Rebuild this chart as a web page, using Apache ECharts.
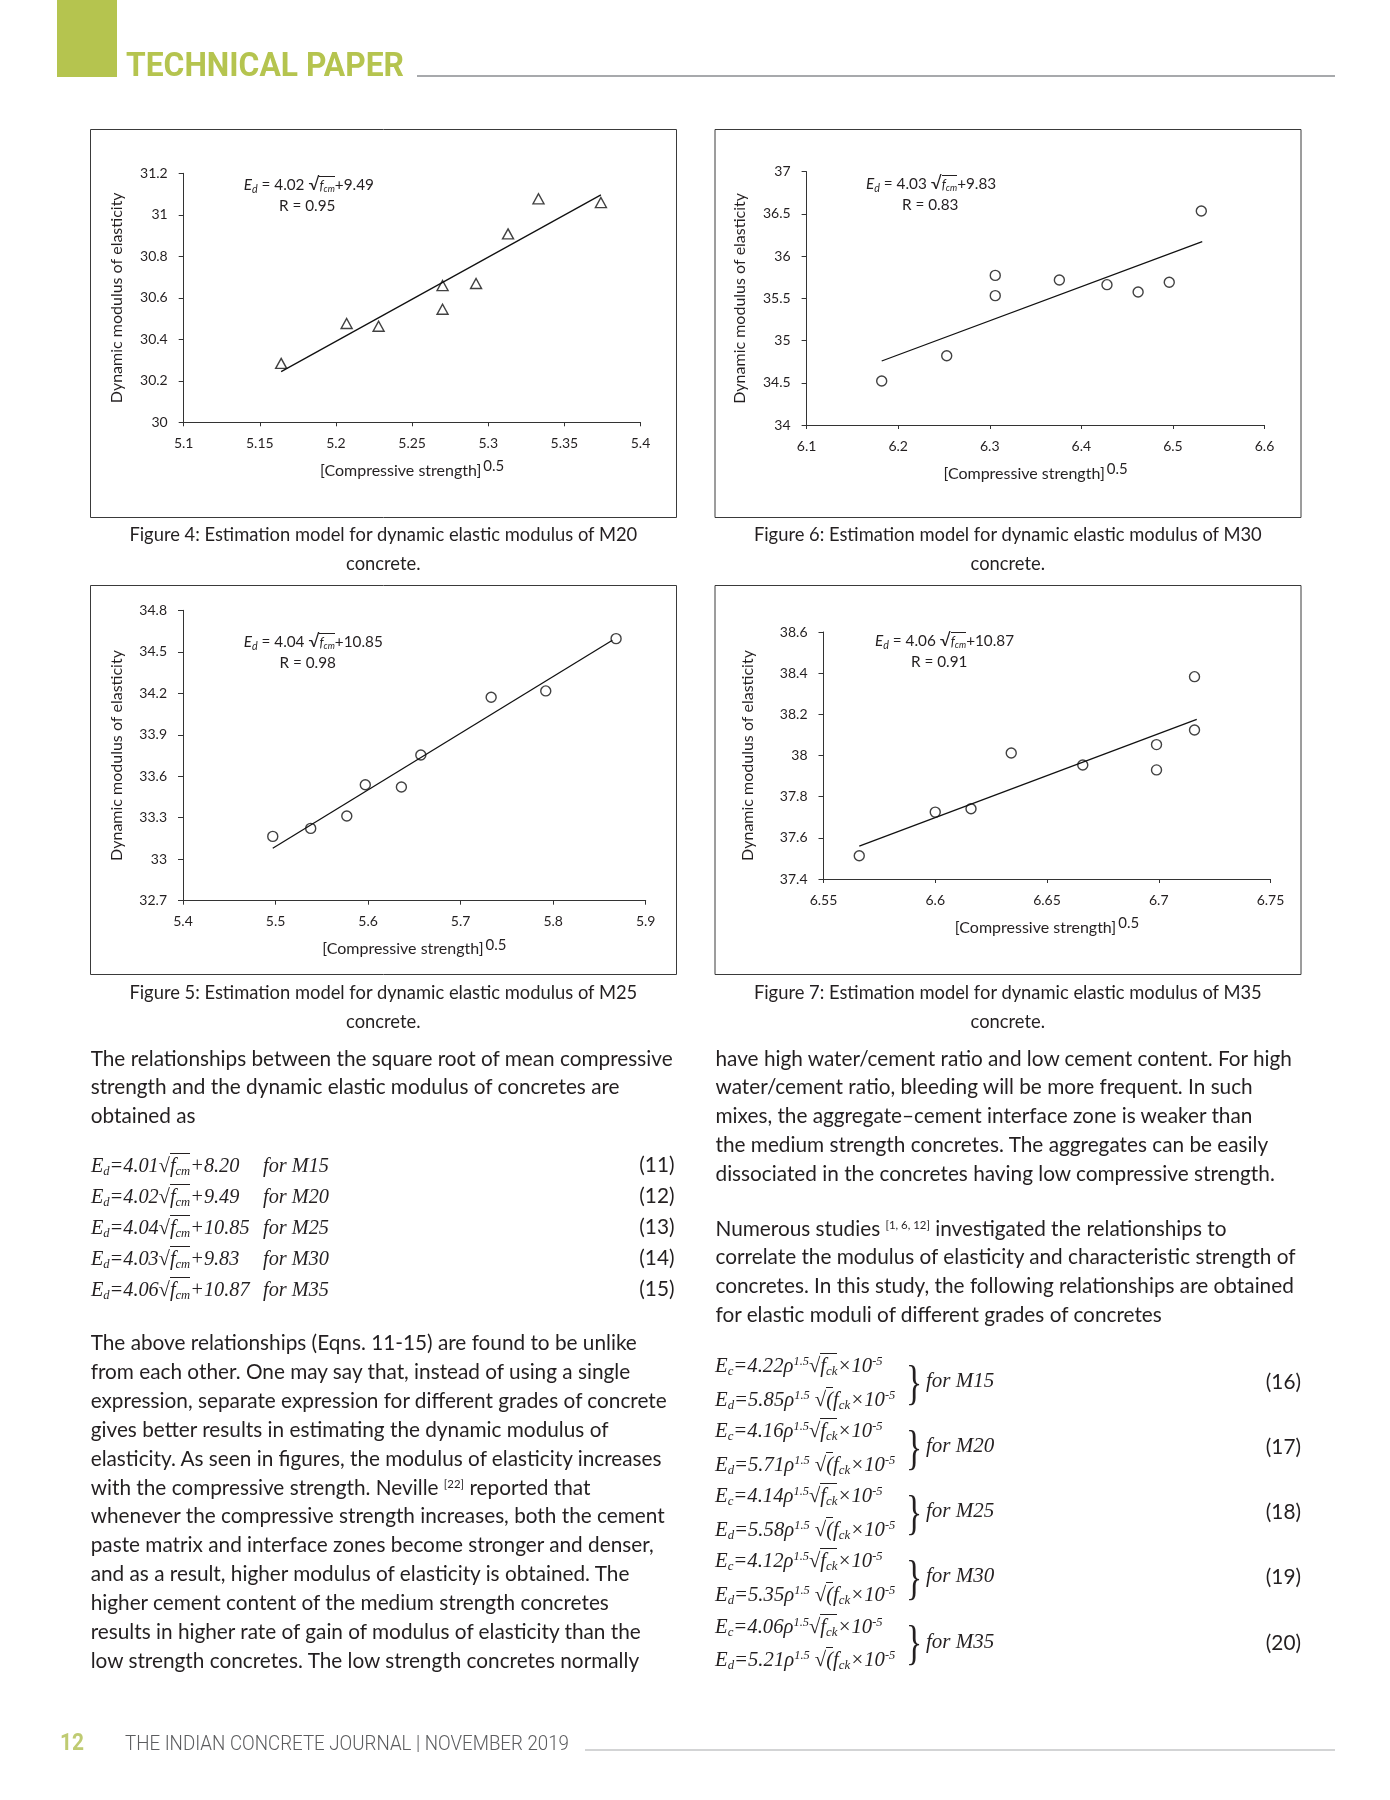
<!DOCTYPE html>
<html>
<head>
<meta charset="utf-8">
<title>Estimation models for dynamic elastic modulus</title>
<script src="https://cdn.jsdelivr.net/npm/echarts@6.0.0/dist/echarts.min.js"></script>
<style>
html,body{margin:0;padding:0;background:#fff;}
#page{position:relative;width:1390px;height:1800px;overflow:hidden;background:#fff;}
#chart{position:absolute;left:0;top:0;width:1390px;height:1800px;}
.t{position:absolute;white-space:nowrap;color:#231f20;line-height:1.2;}
.sans{font-family:Lato,'Noto Sans',sans-serif;}
.eq{font-family:'Liberation Serif','DejaVu Serif',serif;font-style:italic;}
.eq sub{font-size:0.62em;vertical-align:-0.25em;line-height:0;}
.eq sup{font-size:0.6em;vertical-align:0.6em;line-height:0;}
.an sub{font-size:0.7em;vertical-align:-0.25em;line-height:0;}
.ov{border-top:1px solid #231f20;}
.ref{font-size:0.55em;vertical-align:0.65em;line-height:0;}
.cond{font-family:Roboto,'Liberation Sans',sans-serif;transform-origin:0 0;}
.bar{position:absolute;}
</style>
</head>
<body>
<div id="page">
  <div id="chart"></div>
</div>
<script>
// ---------------- DATA ----------------
// Figure 4 (M20)
const fig4X = [5.164, 5.207, 5.228, 5.270, 5.270, 5.292, 5.313, 5.333, 5.374];
const fig4Y = [30.284, 30.476, 30.463, 30.659, 30.545, 30.669, 30.908, 31.077, 31.059];
const fig4FitX = [5.164, 5.374];
const fig4FitY = [30.244, 31.096];
const fig4XTicks = [5.1, 5.15, 5.2, 5.25, 5.3, 5.35, 5.4];
const fig4YTicks = [30, 30.2, 30.4, 30.6, 30.8, 31, 31.2];
// Figure 6 (M30)
const fig6X = [6.182, 6.253, 6.306, 6.306, 6.376, 6.428, 6.462, 6.496, 6.531];
const fig6Y = [34.521, 34.821, 35.772, 35.532, 35.717, 35.662, 35.575, 35.690, 36.534];
const fig6FitX = [6.182, 6.532];
const fig6FitY = [34.758, 36.171];
const fig6XTicks = [6.1, 6.2, 6.3, 6.4, 6.5, 6.6];
const fig6YTicks = [34, 34.5, 35, 35.5, 36, 36.5, 37];
// Figure 5 (M25)
const fig5X = [5.497, 5.538, 5.577, 5.597, 5.636, 5.657, 5.733, 5.792, 5.868];
const fig5Y = [33.165, 33.223, 33.312, 33.539, 33.522, 33.754, 34.171, 34.217, 34.595];
const fig5FitX = [5.497, 5.864];
const fig5FitY = [33.079, 34.583];
const fig5XTicks = [5.4, 5.5, 5.6, 5.7, 5.8, 5.9];
const fig5YTicks = [32.7, 33, 33.3, 33.6, 33.9, 34.2, 34.5, 34.8];
// Figure 7 (M35)
const fig7X = [6.566, 6.600, 6.616, 6.634, 6.666, 6.699, 6.699, 6.716, 6.716];
const fig7Y = [37.513, 37.725, 37.741, 38.012, 37.954, 38.053, 37.930, 38.383, 38.124];
const fig7FitX = [6.566, 6.717];
const fig7FitY = [37.560, 38.176];
const fig7XTicks = [6.55, 6.6, 6.65, 6.7, 6.75];
const fig7YTicks = [37.4, 37.6, 37.8, 38, 38.2, 38.4, 38.6];

const yAxisTitle = 'Dynamic modulus of elasticity';
const xAxisTitle = '[Compressive strength]';
const xAxisPower = '0.5';

const fitCoef = ['4.02', '4.03', '4.04', '4.06'];
const fitConst = ['9.49', '9.83', '10.85', '10.87'];
const fitR = ['0.95', '0.83', '0.98', '0.91'];

// ---------------- LAYOUT ----------------
const INK = '#231f20';
const figs = [
  {x: fig4X, y: fig4Y, fx: fig4FitX, fy: fig4FitY, xt: fig4XTicks, yt: fig4YTicks, sym: 'triangle',
   grid: {left: 183.7, top: 173.3, width: 456.8, height: 249}, yGap: 59},
  {x: fig6X, y: fig6Y, fx: fig6FitX, fy: fig6FitY, xt: fig6XTicks, yt: fig6YTicks, sym: 'circle',
   grid: {left: 806.6, top: 171.7, width: 457.9, height: 253.3}, yGap: 58.5},
  {x: fig5X, y: fig5Y, fx: fig5FitX, fy: fig5FitY, xt: fig5XTicks, yt: fig5YTicks, sym: 'circle',
   grid: {left: 183, top: 610.3, width: 462.7, height: 290.4}, yGap: 58.5},
  {x: fig7X, y: fig7Y, fx: fig7FitX, fy: fig7FitY, xt: fig7XTicks, yt: fig7YTicks, sym: 'circle',
   grid: {left: 823.5, top: 632, width: 447, height: 247}, yGap: 68}
];
const frames = [[90.5, 129.5, 586, 388], [715, 129.5, 586, 388], [90.5, 585.5, 586, 389], [715, 585.5, 586, 389]];

function step(t) { return Math.round((t[1] - t[0]) * 1e6) / 1e6; }

const grids = [], xAxes = [], yAxes = [], series = [];
figs.forEach((f, i) => {
  grids.push(Object.assign({outerBoundsMode: 'none', containLabel: false}, f.grid));
  xAxes.push({
    type: 'value', gridIndex: i, min: f.xt[0], max: f.xt[f.xt.length - 1], interval: step(f.xt),
    axisLine: {show: true, onZero: false, lineStyle: {color: '#333', width: 1}},
    axisTick: {show: true, length: 4, lineStyle: {color: '#333'}},
    splitLine: {show: false},
    axisLabel: {color: INK, fontSize: 14, fontFamily: 'Lato', margin: 14},
    name: '{a|' + xAxisTitle + '}{s|' + xAxisPower + '}', nameLocation: 'middle', nameGap: 36.5,
    nameMoveOverlap: false,
    nameTextStyle: {rich: {
      a: {fontSize: 16, fontFamily: 'Lato', color: INK},
      s: {fontSize: 15, fontFamily: 'Lato', color: INK, padding: [0, 0, 9, 2]}
    }}
  });
  yAxes.push({
    type: 'value', gridIndex: i, min: f.yt[0], max: f.yt[f.yt.length - 1], interval: step(f.yt),
    axisLine: {show: true, onZero: false, lineStyle: {color: '#333', width: 1}},
    axisTick: {show: true, length: 5, lineStyle: {color: '#333'}},
    splitLine: {show: false},
    axisLabel: {color: INK, fontSize: 14, fontFamily: 'Lato', margin: 16},
    name: yAxisTitle, nameLocation: 'middle', nameGap: f.yGap, nameMoveOverlap: false,
    nameTextStyle: {fontSize: 16, fontFamily: 'Lato', color: INK}
  });
  series.push({
    type: 'line', xAxisIndex: i, yAxisIndex: i, symbol: 'none', silent: true, z: 2,
    data: f.fx.map((v, k) => [v, f.fy[k]]),
    lineStyle: {color: '#111', width: 1.3}
  });
  series.push({
    type: 'scatter', xAxisIndex: i, yAxisIndex: i, symbol: f.sym, z: 3, silent: true,
    symbolSize: f.sym === 'triangle' ? [11, 10] : 10,
    data: f.x.map((v, k) => [v, f.y[k]]),
    itemStyle: {color: 'rgba(255,255,255,0)', borderColor: '#111', borderWidth: 1.4},
    emphasis: {disabled: true}
  });
});

const chart = echarts.init(document.getElementById('chart'), null, {renderer: 'canvas'});
chart.setOption({
  animation: false,
  backgroundColor: 'transparent',
  textStyle: {fontFamily: 'Lato'},
  grid: grids, xAxis: xAxes, yAxis: yAxes, series: series,
  graphic: frames.map(r => ({
    type: 'rect', silent: true, z: 0,
    shape: {x: r[0], y: r[1], width: r[2], height: r[3]},
    style: {fill: 'none', stroke: '#3a3a3a', lineWidth: 1}
  }))
});

// ---------------- PAGE TEXT ----------------
const page = document.getElementById('page');
const measCtx = document.createElement('canvas').getContext('2d');
function fitSize(text, family, target, style) {
  measCtx.font = (style || '') + ' 20px ' + family;
  return 20 * target / measCtx.measureText(text).width;
}
function put(html, cls, x, base, size, align, extra) {
  const d = document.createElement('div');
  d.className = 't ' + cls;
  d.style.fontSize = size + 'px';
  if (extra) Object.assign(d.style, extra);
  d.innerHTML = html + '<span class="bm" style="display:inline-block;width:0;height:0;vertical-align:baseline"></span>';
  d.style.left = '0px'; d.style.top = '0px';
  page.appendChild(d);
  const r = d.getBoundingClientRect();
  const bm = d.querySelector('.bm').getBoundingClientRect().top - r.top;
  const w = r.width;
  let left = x;
  if (align === 'center') left = x - w / 2;
  else if (align === 'right') left = x - w;
  d.style.left = left + 'px';
  d.style.top = (base - bm) + 'px';
  return d;
}
function putFit(html, cls, x, base, size, width, extra) {
  const d = put(html, cls, x, base, size, 'left', extra);
  const w = d.getBoundingClientRect().width;
  d.style.transform = 'scaleX(' + (width / w) + ')';
  return d;
}
function bar(x, y, w, h, c) {
  const d = document.createElement('div');
  d.className = 'bar';
  Object.assign(d.style, {left: x + 'px', top: y + 'px', width: w + 'px', height: h + 'px', background: c});
  page.appendChild(d);
}

// header / footer
const GREEN = '#b5c44f';
bar(57, 0, 60, 77, GREEN);
bar(417, 75, 918, 1.5, '#a7a9ac');
putFit('TECHNICAL PAPER', 'cond', 126, 76, 33.5, 278, {fontWeight: 'bold', color: GREEN});
bar(585, 1748.5, 750, 2.2, '#d3d4d5');
putFit('12', 'cond', 60, 1749.5, 23, 24, {fontWeight: 'bold', color: '#bfcb72'});
putFit('THE INDIAN CONCRETE JOURNAL | NOVEMBER 2019', 'cond', 125, 1749.5, 19.5, 444, {fontWeight: '300', color: '#5b5c5e'});

// chart annotations
const anSize = fitSize('R = 0.95', 'Lato', 56.5);
const anPos = [[243.7, 189.5, 279, 210.5], [866, 189, 902, 210], [243.7, 647, 279.5, 668], [875, 646, 911, 667]];
anPos.forEach((p, i) => {
  put('<i>E</i><sub><i>d</i></sub> = ' + fitCoef[i] + ' <span style="font-size:1.15em">&#8730;</span><span class="ov" style="font-size:0.85em"><i>f</i><sub><i>cm</i></sub></span>+' + fitConst[i],
      'sans an', p[0], p[1], anSize, 'left');
  put('R = ' + fitR[i], 'sans', p[2], p[3], anSize, 'left');
});

// captions
const capSize = fitSize('Figure 4: Estimation model for dynamic elastic modulus of M20', 'Lato', 509);
const captions = [
  ['Figure 4: Estimation model for dynamic elastic modulus of M20', 383.3, 541],
  ['Figure 6: Estimation model for dynamic elastic modulus of M30', 1007.8, 541],
  ['Figure 5: Estimation model for dynamic elastic modulus of M25', 383.3, 999],
  ['Figure 7: Estimation model for dynamic elastic modulus of M35', 1007.8, 999]
];
captions.forEach(c => {
  put(c[0], 'sans', c[1], c[2], capSize, 'center');
  put('concrete.', 'sans', c[1], c[2] + 28.7, capSize, 'center');
});

// body text
const bodySize = fitSize('expression, separate expression for different grades of concrete', 'Lato', 577);
const LH = 28.9;
const leftTop = [
  'The relationships between the square root of mean compressive',
  'strength and the dynamic elastic modulus of concretes are',
  'obtained as'
];
const leftBottom = [
  'The above relationships (Eqns. 11-15) are found to be unlike',
  'from each other. One may say that, instead of using a single',
  'expression, separate expression for different grades of concrete',
  'gives better results in estimating the dynamic modulus of',
  'elasticity. As seen in figures, the modulus of elasticity increases',
  'with the compressive strength. Neville <span class="ref">[22]</span> reported that',
  'whenever the compressive strength increases, both the cement',
  'paste matrix and interface zones become stronger and denser,',
  'and as a result, higher modulus of elasticity is obtained. The',
  'higher cement content of the medium strength concretes',
  'results in higher rate of gain of modulus of elasticity than the',
  'low strength concretes. The low strength concretes normally'
];
const rightTop = [
  'have high water/cement ratio and low cement content. For high',
  'water/cement ratio, bleeding will be more frequent. In such',
  'mixes, the aggregate–cement interface zone is weaker than',
  'the medium strength concretes. The aggregates can be easily',
  'dissociated in the concretes having low compressive strength.'
];
const rightBottom = [
  'Numerous studies <span class="ref">[1, 6, 12]</span> investigated the relationships to',
  'correlate the modulus of elasticity and characteristic strength of',
  'concretes. In this study, the following relationships are obtained',
  'for elastic moduli of different grades of concretes'
];
leftTop.forEach((s, i) => put(s, 'sans', 90.7, 1065.5 + i * LH, bodySize));
leftBottom.forEach((s, i) => put(s, 'sans', 90.7, 1350 + i * LH, bodySize));
rightTop.forEach((s, i) => put(s, 'sans', 715.5, 1065.5 + i * LH, bodySize));
rightBottom.forEach((s, i) => put(s, 'sans', 715.5, 1235.5 + i * LH, bodySize));

// equations (11)-(15)
const eqCoef = ['4.01', '4.02', '4.04', '4.03', '4.06'];
const eqConst = ['8.20', '9.49', '10.85', '9.83', '10.87'];
const grades = ['M15', 'M20', 'M25', 'M30', 'M35'];
eqCoef.forEach((c, i) => {
  const b = 1171.5 + i * 31.1;
  put('<i>E</i><sub>d</sub>=' + c + '&#8730;<span class="ov"><i>f</i><sub>cm</sub></span>+' + eqConst[i], 'eq', 90.9, b, 20.3);
  put('for ' + grades[i], 'eq', 263, b, 20.3);
  put('(' + (11 + i) + ')', 'sans', 674.5, b + 0.5, bodySize, 'right');
});

// equations (16)-(20)
const ecCoef = ['4.22', '4.16', '4.14', '4.12', '4.06'];
const edCoef = ['5.85', '5.71', '5.58', '5.35', '5.21'];
ecCoef.forEach((c, g) => {
  const o = g * 65.14;
  put('<i>E</i><sub>c</sub>=' + c + '<i>ρ</i><sup>1.5</sup>&#8730;<span class="ov"><i>f</i><sub>ck</sub></span>×10<sup>-5</sup>', 'eq', 715, 1372 + o, 20.7);
  put('<i>E</i><sub>d</sub>=' + edCoef[g] + '<i>ρ</i><sup>1.5</sup> &#8730;<span class="ov">(</span><i>f</i><sub>ck</sub>×10<sup>-5</sup>', 'eq', 715, 1405.5 + o, 20.7);
  put('}', 'eq', 906, 1398.5 + o, 48, 'left', {fontStyle: 'normal', transform: 'scaleX(0.7)', transformOrigin: '0 0'});
  put('for ' + grades[g], 'eq', 926, 1387 + o, 21);
  put('(' + (16 + g) + ')', 'sans', 1301, 1389 + o, bodySize, 'right');
});
</script>
</body>
</html>
